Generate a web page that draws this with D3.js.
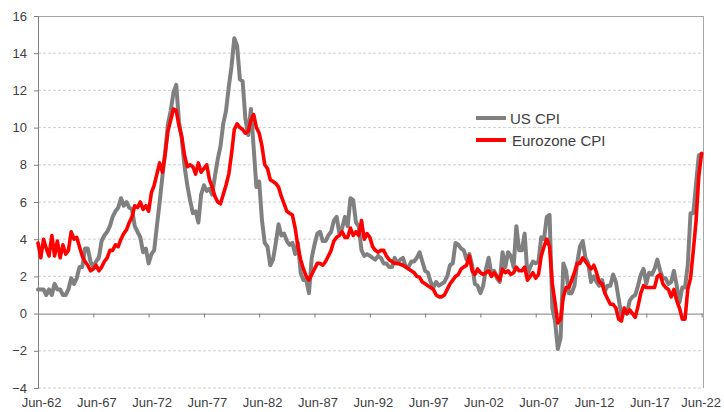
<!DOCTYPE html>
<html><head><meta charset="utf-8">
<script src="https://cdn.jsdelivr.net/npm/d3@7"></script>
<style>
html,body{margin:0;padding:0;background:#fff;}
text{font-family:"Liberation Sans",Arial,sans-serif;}
</style></head>
<body><svg id="chart" width="724" height="412"></svg>
<script>
// Quarterly observations, Jun-62 ... Jun-22
const startYear = 1962, startMonth = 5, stepMonths = 3;
const usCPI = [
 1.3,1.3,1.3,
 1.0,1.3,1.0,1.6, 1.3,1.3,1.0,1.0, 1.3,1.9,1.6,1.9, 2.5,2.5,3.5,3.5, 2.8,2.5,2.8,3.0,
 3.9,4.2,4.4,4.7, 5.2,5.5,5.7,6.2, 5.8,6.0,5.7,5.6, 4.7,4.4,4.1,3.3, 3.5,2.7,3.2,3.4,
 4.7,6.0,7.4,8.7, 10.2,10.9,11.9,12.3, 10.3,9.4,7.9,6.9, 6.1,5.4,5.5,4.9, 6.4,6.9,6.6,6.7,
 6.4,7.4,8.3,9.0, 10.2,10.9,12.2,13.3, 14.8,14.4,12.6,12.5, 10.5,9.6,11.0,8.9, 6.8,7.1,5.0,3.8,
 3.6,2.6,2.9,3.8, 4.8,4.2,4.3,3.9, 3.7,3.8,3.2,3.8, 2.2,1.8,1.8,1.1, 3.0,3.7,4.3,4.4,
 3.9,3.9,4.2,4.4, 5.0,5.2,4.3,4.6, 5.2,4.7,6.2,6.1, 4.9,4.7,3.4,3.1, 3.2,3.1,3.0,2.9,
 3.1,3.0,2.7,2.7, 2.5,2.5,3.0,2.7, 2.9,3.0,2.5,2.5, 2.8,2.8,3.0,3.3, 2.8,2.3,2.2,1.7,
 1.4,1.7,1.5,1.6, 1.7,2.0,2.6,2.7, 3.8,3.7,3.5,3.4, 2.9,3.2,2.6,1.6, 1.5,1.1,1.5,2.4,
 3.0,2.1,2.3,1.9, 1.7,3.3,2.5,3.3, 3.1,2.5,4.7,3.4, 3.4,4.3,2.1,2.5, 2.8,2.7,2.8,4.1,
 4.0,5.2,5.3,0.3, -0.4,-1.9,-1.3,2.7, 2.3,1.1,1.1,1.5, 2.7,3.6,3.9,3.0, 2.7,1.7,2.0,1.7,
 1.5,1.8,1.2,1.5, 1.5,2.1,1.7,0.8, -0.1,0.1,0.0,0.7, 0.9,1.0,1.5,2.1, 2.4,1.6,2.2,2.1,
 2.4,2.9,2.3,1.9, 1.9,1.6,1.7,2.3, 1.5,0.6,1.4,1.4, 2.6,5.4,5.4,7.0,
 8.5,8.6
];
const euroCPI = [
 3.8,3.0,4.0,
 3.5,3.1,4.2,3.1, 3.9,3.0,3.7,3.2, 3.4,4.4,4.0,4.1, 3.6,3.1,2.8,2.6, 2.3,2.4,2.6,2.3,
 2.5,2.8,3.0,3.4, 3.4,3.7,3.6,4.0, 4.3,4.5,4.9,5.2, 5.8,5.7,6.0,5.6, 5.8,5.5,6.5,6.9,
 7.5,8.1,7.6,8.6, 9.8,10.4,11.0,10.9, 10.1,9.5,8.5,7.9, 8.0,7.9,7.5,8.1, 7.6,7.8,8.0,7.2,
 6.8,6.3,6.0,5.9, 6.4,6.9,7.5,8.6, 9.9,10.2,10.0,9.9, 9.7,9.8,10.4,10.7, 10.0,9.7,9.0,8.0,
 7.8,7.2,7.1,7.0, 6.8,6.3,5.9,5.5, 5.4,5.3,4.6,3.6, 2.9,2.4,2.0,1.8, 2.1,2.4,2.7,2.7,
 2.6,2.8,3.1,3.4, 3.9,4.1,4.2,4.4, 4.1,4.1,4.6,4.2, 4.4,4.2,5.0,4.0, 4.3,4.1,3.6,3.4,
 3.3,3.4,3.4,3.1, 2.9,2.8,2.7,2.7, 2.65,2.6,2.5,2.4, 2.3,2.2,2.0,1.95, 1.7,1.6,1.5,1.4,
 1.3,1.0,0.9,0.9, 1.0,1.3,1.6,1.8, 2.0,2.1,2.4,2.5, 2.6,3.1,2.3,2.1, 2.4,2.2,2.1,2.2,
 2.3,2.0,2.2,2.0, 1.8,2.4,2.2,2.3, 2.1,2.2,2.5,2.3, 2.3,2.5,1.8,2.0, 2.2,1.9,2.1,3.1,
 3.6,4.0,3.6,1.6, 0.6,-0.5,-0.3,0.9, 1.4,1.4,1.8,2.2, 2.7,2.7,3.0,2.8, 2.6,2.4,2.6,2.2,
 1.7,1.6,1.1,0.8, 0.5,0.5,0.3,-0.3, -0.4,0.3,0.0,0.2, 0.0,-0.2,0.4,1.1, 1.5,1.4,1.4,1.4,
 1.4,2.0,2.1,1.6, 1.4,1.3,0.9,1.3, 0.7,0.3,-0.3,-0.3, 1.3,1.9,3.4,5.0,
 7.4,8.6
];
const seriesNames = ["US CPI", "Eurozone CPI"];
const seriesColors = ["#808080", "#ff0000"];
const tickYears = [1962,1967,1972,1977,1982,1987,1992,1997,2002,2007,2012,2017,2022];
const yTicks = [-4,-2,0,2,4,6,8,10,12,14,16];

const dates = usCPI.map((_, i) => new Date(startYear, startMonth + stepMonths * i, 1));
const svg = d3.select("#chart");
const L = 38, R = 703, T = 16, B = 388;
const x = d3.scaleTime().domain([new Date(1962,5,1), new Date(2022,5,1)]).range([L, 701.6]);
const y = d3.scaleLinear().domain([-4,16]).range([B, T]);

svg.append("rect").attr("width",724).attr("height",412).attr("fill","#fff");

// gridlines
svg.append("g").selectAll("line").data(yTicks.filter(v => v !== 0 && v !== 16)).join("line")
  .attr("x1", L).attr("x2", R).attr("y1", d => y(d)).attr("y2", d => y(d))
  .attr("stroke", "#cfcfcf").attr("stroke-width", 1).attr("stroke-dasharray", "3,2");
// frame top/right
svg.append("line").attr("x1",L).attr("x2",R).attr("y1",T+0.5).attr("y2",T+0.5).attr("stroke","#a6a6a6");
svg.append("line").attr("x1",R+0.5).attr("x2",R+0.5).attr("y1",T).attr("y2",B).attr("stroke","#a6a6a6");

// y axis
const yAxis = svg.append("g").attr("transform", `translate(${L},0)`)
  .call(d3.axisLeft(y).tickValues(yTicks).tickSize(4).tickPadding(7).tickFormat(d3.format("d")));
yAxis.select(".domain").attr("stroke","#7f7f7f");
yAxis.selectAll(".tick line").attr("stroke","#7f7f7f");
yAxis.selectAll("text").attr("font-size", 13).attr("fill","#404040")
  .style("font-family", '"Liberation Sans", Arial, sans-serif');

// zero axis with ticks
const tickDates = tickYears.map(yr => new Date(yr, 5, 1));
const xAxis0 = svg.append("g").attr("transform", `translate(0,${y(0)})`)
  .call(d3.axisBottom(x).tickValues(tickDates).tickSize(4).tickFormat(""));
xAxis0.select(".domain").attr("stroke","#7f7f7f").attr("d", `M${L},0.5H${R}`);
xAxis0.selectAll(".tick line").attr("stroke","#7f7f7f");

// bottom labels
const fmt = d3.timeFormat("%b-%y");
const xLab = svg.append("g").attr("transform", `translate(0,${B})`)
  .call(d3.axisBottom(x).tickValues(tickDates).tickSize(0).tickPadding(10).tickFormat(fmt));
xLab.select(".domain").remove();
xLab.selectAll("text").attr("font-size", 13).attr("fill","#404040")
  .style("font-family", '"Liberation Sans", Arial, sans-serif')
  .attr("dx", (d, i) => i === tickDates.length - 1 ? -1 : 3);

// lines
const line = d3.line().x((d, i) => x(dates[i])).y(d => y(d)).curve(d3.curveLinear);
[usCPI, euroCPI].forEach((vals, k) => {
  svg.append("path").datum(vals).attr("d", line).attr("fill","none")
    .attr("stroke", seriesColors[k]).attr("stroke-width", k === 0 ? 4 : 3.6)
    .attr("stroke-linejoin","round").attr("stroke-linecap","round");
});

// legend
const leg = svg.append("g");
seriesNames.forEach((name, k) => {
  const ly = 118 + k * 22;
  leg.append("line").attr("x1", 476).attr("x2", 506).attr("y1", ly).attr("y2", ly)
    .attr("stroke", seriesColors[k]).attr("stroke-width", 4);
  leg.append("text").attr("x", k === 0 ? 510 : 512).attr("y", ly + 5.5).attr("font-size", 15)
    .attr("fill", "#404040").text(name);
});
</script></body></html>
